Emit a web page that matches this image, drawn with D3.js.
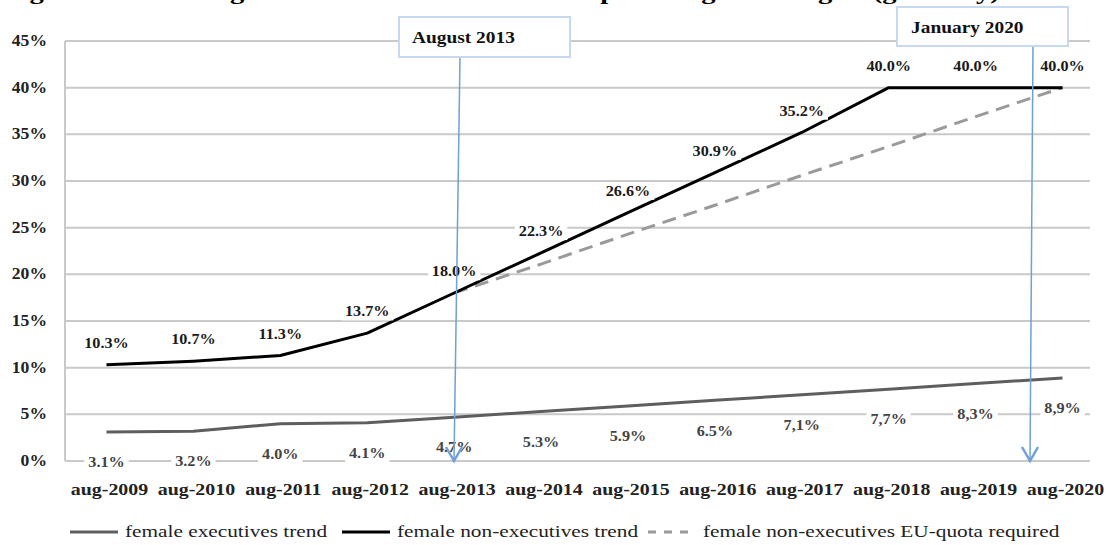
<!DOCTYPE html>
<html>
<head>
<meta charset="utf-8">
<title>Women on boards</title>
<script src="https://d3js.org/d3.v7.min.js"></script>
<style>
  body { margin: 0; background: #fff; }
  svg { display: block; }
  svg text { font-family: "Liberation Serif", "Times New Roman", serif; }
</style>
</head>
<body>
<svg id="chart" width="1107" height="545"></svg>
<script>
// values
var years = ["aug-2009", "aug-2010", "aug-2011", "aug-2012", "aug-2013", "aug-2014",
             "aug-2015", "aug-2016", "aug-2017", "aug-2018", "aug-2019", "aug-2020"];
var executives = [3.1, 3.2, 4.0, 4.1, 4.7, 5.3, 5.9, 6.5, 7.1, 7.7, 8.3, 8.9];
var execLabels = ["3.1%", "3.2%", "4.0%", "4.1%", "4.7%", "5.3%", "5.9%", "6.5%", "7,1%", "7,7%", "8,3%", "8,9%"];
var nonExecutives = [10.3, 10.7, 11.3, 13.7, 18.0, 22.3, 26.6, 30.9, 35.2, 40.0, 40.0, 40.0];
var quotaYears = ["aug-2013", "aug-2014", "aug-2015", "aug-2016", "aug-2017", "aug-2018", "aug-2019", "aug-2020"];
var quota = [18.0, 21.1, 24.3, 27.4, 30.6, 33.7, 36.9, 40.0];
var yTicks = [0, 5, 10, 15, 20, 25, 30, 35, 40, 45];
var callouts = [
  {label: "August 2013", at: "aug-2013"},
  {label: "January 2020", at: "aug-2020"}
];

var svg = d3.select("#chart");
var plotL = 65, plotR = 1090, plotT = 41, plotB = 461;

var x = d3.scalePoint().domain(years).range([106.5, 1062.5]);
var y = d3.scaleLinear().domain([0, 45]).range([plotB, plotT]);

// the source picture is a little stretched sideways; widen text to match
function stretch(sel, k) {
  sel.each(function() {
    var w = this.getComputedTextLength();
    d3.select(this).attr("textLength", w * k).attr("lengthAdjust", "spacingAndGlyphs");
  });
}

// title, cut off by the top edge (only the lowest bits show)
svg.append("text")
    .attr("x", 4).attr("y", -1)
    .style("font-size", "22px").style("font-weight", "bold")
    .text("Figure 2: Percentage of women on the boards: expected against targets (germany)")
    .call(stretch, 1.3);

// gridlines
svg.append("g").selectAll("line")
  .data(yTicks)
  .join("line")
    .attr("x1", plotL).attr("x2", plotR)
    .attr("y1", d => y(d)).attr("y2", d => y(d))
    .attr("stroke", "#c9c9c9").attr("stroke-width", 2);
svg.append("line")
    .attr("x1", plotL).attr("x2", plotL).attr("y1", y(45)).attr("y2", y(0))
    .attr("stroke", "#c9c9c9").attr("stroke-width", 2);

// y axis labels
svg.append("g").selectAll("text")
  .data(yTicks)
  .join("text")
    .attr("x", 47).attr("y", d => y(d) + 5)
    .attr("text-anchor", "end")
    .style("font-size", "16px").style("font-weight", "bold").attr("fill", "#222")
    .text(d => d + "%")
    .call(stretch, 1.1);

// x axis labels
svg.append("g").selectAll("text")
  .data(years)
  .join("text")
    .attr("x", d => x(d) + 3).attr("y", 495)
    .attr("text-anchor", "middle")
    .style("font-size", "17px").style("font-weight", "bold").attr("fill", "#222")
    .text(d => d)
    .call(stretch, 1.17);

// lines
var line = d3.line().x(d => x(d[0])).y(d => y(d[1]));

svg.append("path")
    .attr("d", line(d3.zip(quotaYears, quota)))
    .attr("fill", "none").attr("stroke", "#9a9a9a").attr("stroke-width", 3)
    .attr("stroke-dasharray", "14,8");
svg.append("path")
    .attr("d", line(d3.zip(years, executives)))
    .attr("fill", "none").attr("stroke", "#5e5e5e").attr("stroke-width", 3)
    .attr("stroke-linejoin", "round");
svg.append("path")
    .attr("d", line(d3.zip(years, nonExecutives)))
    .attr("fill", "none").attr("stroke", "#000").attr("stroke-width", 3)
    .attr("stroke-linejoin", "round");

// data labels with white boxes
function labels(data, texts, dy, color) {
  var g = svg.append("g").selectAll("g")
    .data(data)
    .join("g")
      .attr("transform", (d, i) => "translate(" + x(years[i]) + "," + (y(d) + dy) + ")");
  var t = g.append("text")
      .attr("text-anchor", "middle").attr("dy", "0.35em")
      .style("font-size", "15px").style("font-weight", "bold").attr("fill", color)
      .text((d, i) => texts[i])
      .call(stretch, 1.08);
  t.each(function() {
    var b = this.getBBox();
    d3.select(this.parentNode).insert("rect", "text")
      .attr("x", b.x - 4).attr("y", b.y - 1)
      .attr("width", b.width + 8).attr("height", b.height + 2)
      .attr("fill", "#fff");
  });
}
labels(nonExecutives, nonExecutives.map(d => d.toFixed(1) + "%"), -22, "#1a1a1a");
labels(executives, execLabels, 30, "#444");

// callout boxes with blue arrows
var boxes = [
  {x0: 399, y0: 17, w: 171, h: 40, tx: 412, ty: 43, ax1: 460, ax2: 454},
  {x0: 897, y0: 7, w: 171, h: 39, tx: 911, ty: 33, ax1: 1033, ax2: 1030}
];
callouts.forEach(function(c, i) {
  var b = boxes[i];
  svg.append("line")
      .attr("x1", b.ax1).attr("y1", b.y0 + b.h).attr("x2", b.ax2).attr("y2", y(0))
      .attr("stroke", "#6fa0d6").attr("stroke-width", 1.5);
  svg.append("path")
      .attr("d", "M" + (b.ax2 - 8) + "," + (y(0) - 14) + "L" + b.ax2 + "," + y(0) + "L" + (b.ax2 + 8) + "," + (y(0) - 14))
      .attr("fill", "none").attr("stroke", "#6fa0d6").attr("stroke-width", 2.5);
  svg.append("rect")
      .attr("x", b.x0).attr("y", b.y0).attr("width", b.w).attr("height", b.h)
      .attr("fill", "#fff").attr("stroke", "#c6d9f0").attr("stroke-width", 2);
  svg.append("text")
      .attr("x", b.tx).attr("y", b.ty)
      .style("font-size", "17px").style("font-weight", "bold").attr("fill", "#111")
      .text(c.label)
      .call(stretch, 1.14);
});

// legend
var legend = [
  {name: "female executives trend", color: "#5e5e5e", dash: null, x0: 70},
  {name: "female non-executives trend", color: "#000", dash: null, x0: 342},
  {name: "female non-executives EU-quota required", color: "#9a9a9a", dash: "8,8", x0: 648}
];
var lg = svg.append("g").selectAll("g")
  .data(legend)
  .join("g")
    .attr("transform", d => "translate(" + d.x0 + ",532)");
lg.append("line")
    .attr("x1", 0).attr("x2", 48)
    .attr("stroke", d => d.color).attr("stroke-width", 3)
    .attr("stroke-dasharray", d => d.dash);
lg.append("text")
    .attr("x", 55).attr("y", 5)
    .style("font-size", "16px").attr("fill", "#222")
    .text(d => d.name)
    .call(stretch, 1.33);
</script>
</body>
</html>
